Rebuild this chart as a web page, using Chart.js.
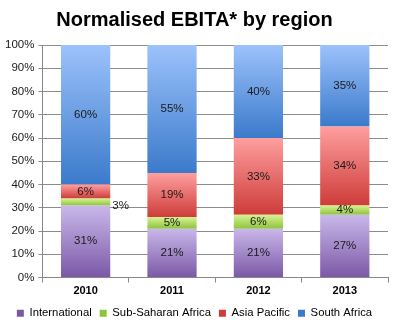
<!DOCTYPE html>
<html>
<head>
<meta charset="utf-8">
<script src="https://cdn.jsdelivr.net/npm/chart.js@4/dist/chart.umd.min.js"></script>
<style>
  html, body { margin: 0; padding: 0; background: #fff; }
  #wrap { width: 399px; height: 335px; }
</style>
</head>
<body>
<div id="wrap"><canvas id="ebitaChart"></canvas></div>
<script>
// data (share of normalised EBITA, %)
const years = ['2010', '2011', '2012', '2013'];
const international = [31, 21, 21, 27];
const subSaharan = [3, 5, 6, 4];
const asiaPacific = [6, 19, 33, 34];
const southAfrica = [60, 55, 40, 35];
const yTicks = [0, 10, 20, 30, 40, 50, 60, 70, 80, 90, 100];

const seriesList = [international, subSaharan, asiaPacific, southAfrica];

// light top -> dark bottom, like the office-style bars
const shades = [
    ['#c9b8ea', '#7b58a6'],
    ['#d9f293', '#8cc43c'],
    ['#ff9f9f', '#cd3c39'],
    ['#9cc2fb', '#3b7acb']
];

function segmentFill(dsIndex) {
    return function(c) {
        const chart = c.chart;
        const yScale = chart.scales.y;
        const flat = shades[dsIndex][1];
        if (c.type !== 'data' || !yScale || yScale.top === undefined) {
            return flat;
        }
        let base = 0;
        for (let k = 0; k < dsIndex; k++) base += seriesList[k][c.dataIndex];
        const topPx = yScale.getPixelForValue(base + seriesList[dsIndex][c.dataIndex]);
        const botPx = yScale.getPixelForValue(base);
        if (!isFinite(topPx) || !isFinite(botPx) || topPx === botPx) return flat;
        const g = chart.ctx.createLinearGradient(0, topPx, 0, botPx);
        g.addColorStop(0, shades[dsIndex][0]);
        g.addColorStop(1, shades[dsIndex][1]);
        return g;
    };
}

// percentage labels in the middle of each segment; a very thin slice gets its label beside the bar
const segmentLabels = {
    id: 'segmentLabels',
    afterDatasetsDraw(chart) {
        const ctx = chart.ctx;
        ctx.save();
        ctx.font = '11.5px "Liberation Sans", Arial, sans-serif';
        ctx.fillStyle = '#1a1a1a';
        ctx.textBaseline = 'middle';
        chart.data.datasets.forEach(function(ds, i) {
            const meta = chart.getDatasetMeta(i);
            meta.data.forEach(function(bar, j) {
                const v = ds.data[j];
                const midY = (bar.y + bar.base) / 2;
                if (v <= 3) {
                    ctx.textAlign = 'left';
                    ctx.fillText(v + '%', bar.x + bar.width / 2 + 2, midY + 4);
                } else {
                    ctx.textAlign = 'center';
                    ctx.fillText(v + '%', bar.x, midY);
                }
            });
        });
        ctx.restore();
    }
};

const names = ['International', 'Sub-Saharan Africa', 'Asia Pacific', 'South Africa'];

const chart = new Chart(document.getElementById('ebitaChart').getContext('2d'), {
    type: 'bar',
    data: {
        labels: years,
        datasets: seriesList.map(function(values, i) {
            return {
                label: names[i],
                data: values,
                backgroundColor: segmentFill(i),
                borderWidth: 0,
                categoryPercentage: 1,
                barPercentage: 0.57
            };
        })
    },
    options: {
        responsive: true,
        maintainAspectRatio: false,
        animation: false,
        layout: { padding: { left: 1, right: 11, top: 0, bottom: 6 } },
        plugins: {
            title: {
                display: true,
                text: 'Normalised EBITA* by region',
                color: '#000',
                font: { family: '"Liberation Sans", Arial, sans-serif', size: 20, weight: 'bold' },
                padding: { top: 8, bottom: 13 }
            },
            legend: {
                position: 'bottom',
                labels: {
                    boxWidth: 7,
                    boxHeight: 7,
                    padding: 8,
                    color: '#1a1a1a',
                    font: { family: '"Liberation Sans", Arial, sans-serif', size: 11.3 },
                    generateLabels: function(chart) {
                        return chart.data.datasets.map(function(ds, i) {
                            return {
                                text: ds.label,
                                fillStyle: shades[i][1],
                                strokeStyle: shades[i][1],
                                lineWidth: 0,
                                hidden: !chart.isDatasetVisible(i),
                                datasetIndex: i
                            };
                        });
                    }
                }
            },
            tooltip: { enabled: false }
        },
        scales: {
            x: {
                stacked: true,
                grid: {
                    display: true,
                    offset: true,
                    drawOnChartArea: false,
                    drawTicks: true,
                    tickLength: 5,
                    color: '#888'
                },
                border: { display: true, color: '#888', width: 1 },
                ticks: {
                    color: '#000',
                    padding: 2,
                    font: { family: '"Liberation Sans", Arial, sans-serif', size: 11, weight: 'bold' }
                }
            },
            y: {
                stacked: true,
                min: 0,
                max: 100,
                afterBuildTicks: function(scale) {
                    scale.ticks = yTicks.map(function(v) { return { value: v }; });
                },
                grid: { color: '#8c8c8c', tickLength: 4, lineWidth: 1 },
                border: { display: true, color: '#888', width: 1 },
                ticks: {
                    color: '#1a1a1a',
                    padding: 4,
                    font: { family: '"Liberation Sans", Arial, sans-serif', size: 11.5 },
                    callback: function(v) { return v + '%'; }
                }
            }
        }
    },
    plugins: [segmentLabels]
});
</script>
</body>
</html>
